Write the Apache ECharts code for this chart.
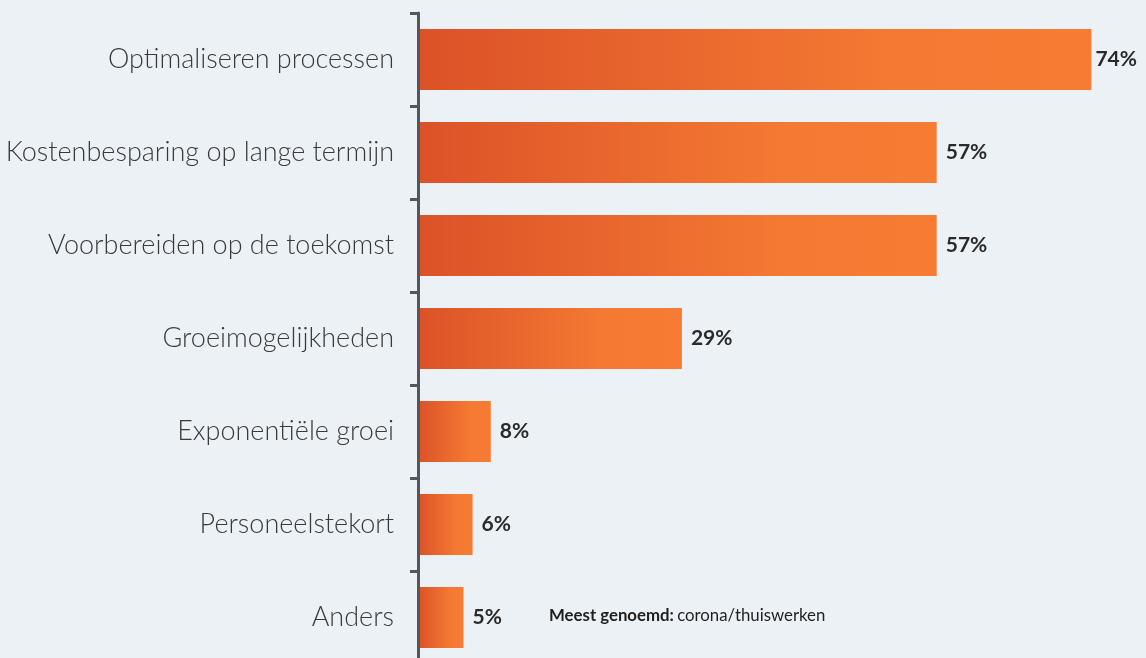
<!DOCTYPE html>
<html>
<head>
<meta charset="utf-8">
<style>
  html, body { margin: 0; padding: 0; background: #ecf1f6; overflow: hidden; }
  #chart { width: 1146px; height: 680px; }
</style>
<script src="https://cdn.jsdelivr.net/npm/echarts@6/dist/echarts.min.js"></script>
</head>
<body>
<div id="chart"></div>
<script>
// Redenen voor investering (percentage respondenten)
const categories = [
  'Optimaliseren processen',
  'Kostenbesparing op lange termijn',
  'Voorbereiden op de toekomst',
  'Groeimogelijkheden',
  'Exponentiële groei',
  'Personeelstekort',
  'Anders'
];
const values = [74, 57, 57, 29, 8, 6, 5];
const noteBold = 'Meest genoemd:';
const noteText = 'corona/thuiswerken';

const barGradient = new echarts.graphic.LinearGradient(0, 0, 1, 0, [
  { offset: 0, color: '#dc5228' },
  { offset: 0.7, color: '#f47932' },
  { offset: 1, color: '#f67b33' }
]);

const chart = echarts.init(document.getElementById('chart'));
chart.setOption({
  backgroundColor: '#ecf1f6',
  animation: false,
  // the axis runs just past the lower edge of the visible page
  grid: { left: 418, top: 13, width: 730, height: 651, containLabel: false },
  xAxis: {
    type: 'value',
    min: 0,
    max: 80,
    show: false
  },
  yAxis: {
    type: 'category',
    data: categories,
    inverse: true,
    z: 3,
    axisLine: { show: true, lineStyle: { color: '#54565b', width: 3 } },
    axisTick: { show: true, length: 8, lineStyle: { color: '#54565b', width: 3 } },
    axisLabel: {
      margin: 24,
      color: '#3a3a3a',
      fontFamily: 'Lato',
      fontWeight: 300,
      fontSize: 27
    },
    splitLine: { show: false }
  },
  series: [{
    type: 'bar',
    data: values.map((v, i) => ({
      value: v,
      label: { distance: i === 0 ? 4 : 9 }
    })),
    barWidth: 61,
    itemStyle: { color: barGradient },
    label: {
      show: true,
      position: 'right',
      formatter: '{c}%',
      color: '#2a2a2a',
      fontFamily: 'Lato',
      fontWeight: 'bold',
      fontSize: 21
    }
  }],
  graphic: [{
    type: 'text',
    left: 549,
    top: 607,
    style: {
      text: '{b|' + noteBold + '} {n|' + noteText + '}',
      rich: {
        b: { fontFamily: 'Lato', fontWeight: 'bold', fontSize: 16.8, fill: '#1f1f1f' },
        n: { fontFamily: 'Lato', fontWeight: 'normal', fontSize: 16.8, fill: '#1f1f1f' }
      }
    }
  }]
});
</script>
</body>
</html>
